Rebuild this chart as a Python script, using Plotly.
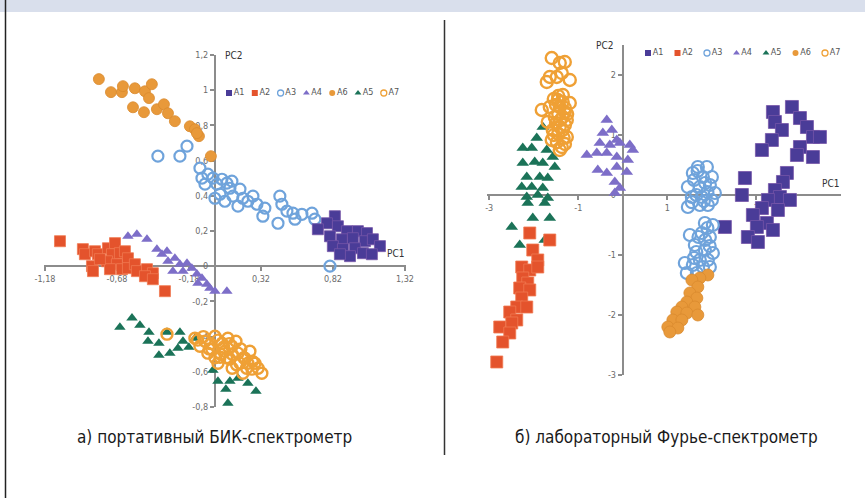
import plotly.graph_objects as go

W, H = 865, 498

# ---------------- data: panel a (portable NIR) ----------------
a_A1_x = [0.833, 0.778, 0.715, 0.854, 0.917, 0.993, 1.056, 0.799, 0.882, 0.958, 1.042, 1.097, 1.146, 0.819, 0.889, 0.972, 1.028, 1.090, 0.938, 0.868]
a_A1_y = [0.284, 0.244, 0.210, 0.227, 0.199, 0.199, 0.188, 0.170, 0.153, 0.159, 0.142, 0.153, 0.114, 0.114, 0.097, 0.102, 0.074, 0.068, 0.057, 0.068]

a_A2_x = [-1.076, -0.917, -0.903, -0.833, -0.813, -0.854, -0.847, -0.743, -0.694, -0.715, -0.660, -0.625, -0.604, -0.750, -0.681, -0.729, -0.646, -0.604, -0.556, -0.542, -0.472, -0.431, -0.486, -0.431, -0.347, -0.799]
a_A2_y = [0.142, 0.097, 0.068, 0.085, 0.068, 0.000, -0.028, 0.102, 0.131, 0.068, 0.074, 0.085, 0.045, 0.028, 0.011, -0.017, -0.017, -0.011, 0.011, -0.028, -0.017, -0.040, -0.057, -0.074, -0.142, 0.040]

a_A3_x = [-0.396, -0.243, -0.194, -0.104, -0.090, -0.049, -0.069, -0.014, 0.014, 0.049, 0.083, 0.118, 0.104, 0.035, 0.000, 0.069, 0.125, 0.174, 0.194, 0.160, 0.229, 0.264, 0.292, 0.347, 0.333, 0.451, 0.465, 0.500, 0.542, 0.438, 0.556, 0.604, 0.674, 0.694, 0.799]
a_A3_y = [0.625, 0.625, 0.682, 0.557, 0.500, 0.523, 0.466, 0.500, 0.466, 0.494, 0.472, 0.483, 0.443, 0.409, 0.386, 0.369, 0.398, 0.438, 0.386, 0.341, 0.369, 0.398, 0.352, 0.330, 0.284, 0.398, 0.352, 0.313, 0.301, 0.244, 0.267, 0.295, 0.301, 0.267, 0.000]

a_A4_x = [-0.604, -0.542, -0.472, -0.403, -0.368, -0.333, -0.326, -0.278, -0.243, -0.194, -0.160, -0.222, -0.125, -0.090, -0.118, -0.056, -0.035, 0.000, 0.083, -0.292]
a_A4_y = [0.170, 0.182, 0.153, 0.097, 0.068, 0.085, 0.028, 0.045, 0.011, 0.017, -0.011, -0.028, -0.045, -0.068, -0.097, -0.102, -0.125, -0.142, -0.142, -0.028]

a_A5_x = [-0.660, -0.576, -0.521, -0.458, -0.465, -0.389, -0.333, -0.389, -0.313, -0.243, -0.222, -0.257, -0.181, -0.139, -0.014, 0.021, 0.104, 0.076, 0.160, 0.229, 0.285, 0.090]
a_A5_y = [-0.347, -0.295, -0.335, -0.375, -0.426, -0.438, -0.375, -0.506, -0.494, -0.375, -0.426, -0.466, -0.460, -0.409, -0.591, -0.653, -0.653, -0.699, -0.636, -0.665, -0.710, -0.778]

a_A6_x = [-0.806, -0.722, -0.646, -0.639, -0.556, -0.486, -0.438, -0.458, -0.569, -0.493, -0.403, -0.354, -0.326, -0.278, -0.174, -0.139, -0.111, -0.125, -0.028]
a_A6_y = [1.063, 0.989, 0.989, 1.023, 1.011, 0.994, 1.034, 0.955, 0.903, 0.875, 0.892, 0.920, 0.869, 0.824, 0.795, 0.778, 0.739, 0.756, 0.625]

a_A7_x = [-0.333, -0.139, -0.069, 0.000, 0.049, -0.021, 0.069, 0.118, 0.160, 0.208, 0.104, 0.035, 0.243, 0.174, 0.278, 0.229, 0.326, 0.194, -0.049, -0.104, 0.090, 0.146, 0.021, 0.257,
          -0.120, -0.080, -0.030, 0.020, 0.060, 0.100, 0.120, 0.080, 0.040, 0.180, 0.200, 0.150, 0.220, 0.260, 0.300, 0.120, -0.040, 0.000]
a_A7_y = [-0.386, -0.409, -0.426, -0.398, -0.438, -0.472, -0.483, -0.455, -0.494, -0.523, -0.528, -0.517, -0.483, -0.551, -0.551, -0.551, -0.608, -0.608, -0.494, -0.455, -0.409, -0.426, -0.551, -0.585,
          -0.420, -0.400, -0.440, -0.420, -0.460, -0.440, -0.500, -0.520, -0.500, -0.470, -0.520, -0.560, -0.580, -0.540, -0.580, -0.580, -0.470, -0.520]

# ---------------- data: panel b (laboratory FT) ----------------
b_A1_x = [3.371, 3.798, 3.416, 3.978, 3.573, 4.135, 3.348, 4.270, 4.427, 3.124, 3.978, 3.910, 4.270, 3.685, 2.742, 3.596, 3.416, 2.674, 3.528, 3.753, 3.258, 3.124, 3.483, 2.921, 2.292, 3.236, 3.011, 3.371, 2.809, 3.034]
b_A1_y = [1.383, 1.467, 1.217, 1.283, 1.083, 1.133, 0.917, 0.967, 0.967, 0.750, 0.800, 0.667, 0.633, 0.367, 0.283, 0.217, 0.083, 0.000, -0.033, -0.083, -0.083, -0.217, -0.250, -0.333, -0.533, -0.467, -0.533, -0.583, -0.700, -0.783]

b_A2_x = [-2.090, -1.640, -2.022, -1.910, -2.270, -2.090, -1.910, -2.247, -2.135, -2.315, -2.090, -2.270, -2.382, -2.157, -2.539, -2.382, -2.494, -2.764, -2.539, -2.697, -2.831]
b_A2_y = [-0.633, -0.750, -0.917, -1.083, -1.200, -1.250, -1.200, -1.383, -1.467, -1.550, -1.583, -1.717, -1.867, -1.867, -1.950, -2.083, -2.133, -2.200, -2.300, -2.450, -2.783]

b_A3_x = [1.685, 1.888, 1.573, 1.798, 2.000, 1.461, 1.730, 1.955, 2.067, 1.551, 1.775, 2.000, 1.461, 1.730, 1.910, 1.843, 2.022, 1.506, 1.775, 1.955, 1.618, 1.843, 2.022, 1.730, 1.910, 1.393, 1.573, 1.955, 1.438, 1.663,
          1.600, 1.850, 1.650, 1.900, 1.550, 1.820, 1.700, 1.900, 1.650, 1.950, 1.600, 1.800, 1.850, 1.680]
b_A3_y = [0.467, 0.467, 0.367, 0.300, 0.300, 0.133, 0.133, 0.167, 0.033, -0.033, -0.033, -0.083, -0.200, -0.167, -0.167, -0.467, -0.500, -0.667, -0.633, -0.700, -0.833, -0.917, -0.967, -1.083, -1.083, -1.133, -1.167, -1.200, -1.300, -1.300,
          0.250, 0.200, 0.000, 0.050, -0.120, -0.100, -0.700, -0.550, -0.950, -0.850, -1.050, -1.200, -0.750, 0.400]

b_A4_x = [-0.360, -0.247, -0.449, -0.135, -0.517, -0.292, -0.067, 0.157, -0.809, -0.584, -0.360, -0.135, 0.225, 0.112, -0.562, -0.360, -0.135, 0.090, -0.180, -0.067, -0.180]
b_A4_y = [1.250, 1.083, 1.033, 0.917, 0.867, 0.833, 0.867, 0.833, 0.667, 0.700, 0.700, 0.633, 0.750, 0.583, 0.417, 0.367, 0.467, 0.383, 0.217, 0.117, 0.033]

b_A5_x = [-1.798, -1.933, -2.247, -2.045, -1.708, -1.573, -2.247, -1.978, -1.798, -1.528, -2.157, -1.865, -1.685, -2.270, -2.045, -1.798, -2.157, -1.910, -1.685, -2.135, -1.753, -2.022, -1.640, -2.494, -2.315, -1.753]
b_A5_y = [1.133, 0.950, 0.783, 0.783, 0.750, 0.633, 0.533, 0.550, 0.533, 0.467, 0.300, 0.300, 0.283, 0.133, 0.133, 0.117, -0.033, 0.000, -0.050, -0.133, -0.133, -0.383, -0.383, -0.533, -0.833, -0.750]

b_A6_x = [1.910, 1.730, 1.551, 1.685, 1.506, 1.663, 1.438, 1.326, 1.618, 1.213, 1.438, 1.685, 1.124, 1.326, 1.011, 1.236, 1.056]
b_A6_y = [-1.333, -1.383, -1.417, -1.533, -1.633, -1.717, -1.783, -1.867, -1.867, -1.950, -1.967, -2.000, -2.083, -2.083, -2.200, -2.217, -2.283]

b_A7_x = [-1.596, -1.416, -1.303, -1.640, -1.483, -1.371, -1.191, -1.708, -1.820, -1.348, -1.191, -1.416, -1.640, -1.528, -1.258, -1.416, -1.573, -1.258, -1.371, -1.416, -1.348, -1.596, -1.461, -1.303, -1.685,
          -1.450, -1.350, -1.500, -1.300, -1.450, -1.350, -1.500, -1.300, -1.450, -1.330, -1.480, -1.300, -1.550, -1.400, -1.250, -1.550]
b_A7_y = [2.283, 2.200, 2.217, 1.967, 1.967, 2.033, 1.917, 1.883, 1.417, 1.667, 1.533, 1.467, 1.467, 1.300, 1.250, 1.133, 1.083, 0.967, 0.800, 0.750, 1.083, 0.917, 1.583, 1.383, 1.217,
          1.650, 1.550, 1.500, 1.450, 1.350, 1.300, 1.200, 1.170, 1.020, 0.950, 0.880, 0.850, 1.000, 1.250, 1.350, 1.600]

# ---------------- axes ticks / labels ----------------
a_xticks = [-1.18, -0.68, -0.18, 0.32, 0.82, 1.32]
a_xtext = ["-1,18", "-0,68", "-0,18", "0,32", "0,82", "1,32"]
a_yticks = [-0.8, -0.6, -0.4, -0.2, 0.0, 0.2, 0.4, 0.6, 0.8, 1.0, 1.2]
a_ytext = ["-0,8", "-0,6", "-0,4", "-0,2", "0", "0,2", "0,4", "0,6", "0,8", "1", "1,2"]
b_xticks = [-3, -1, 1, 3]
b_xtext = ["-3", "-1", "1", "3"]
b_yticks = [-3, -2, -1, 0, 1, 2]
b_ytext = ["-3", "-2", "-1", "0", "1", "2"]

legend_order_a = ["A1", "A2", "A3", "A4", "A6", "A5", "A7"]
legend_order_b = ["A1", "A2", "A3", "A4", "A5", "A6", "A7"]

caption_a = "а) портативный БИК-спектрометр"
caption_b = "б) лабораторный Фурье-спектрометр"

# ---------------- styles ----------------
STYLE = {
    "A1": dict(symbol="square", color="#4A3C98", line=dict(color="#7656A8", width=0.8), size=11),
    "A2": dict(symbol="square", color="#E4532C", line=dict(color="#F07A52", width=0.8), size=11),
    "A3": dict(symbol="circle-open", color="#6FA3DB", line=dict(color="#6FA3DB", width=2.2), size=11),
    "A4": dict(symbol="triangle-up", color="#7D6EC8", line=dict(width=0), size=10),
    "A5": dict(symbol="triangle-up", color="#1B7358", line=dict(width=0), size=10),
    "A6": dict(symbol="circle", color="#E8993A", line=dict(color="#D98A2E", width=0.8), size=11),
    "A7": dict(symbol="circle-open", color="#EFA035", line=dict(color="#EFA035", width=2.4), size=11),
}
SIZE_B = {"A1": 13, "A2": 12, "A3": 12, "A4": 11, "A5": 11, "A6": 12, "A7": 12}

DATA_A = {"A1": (a_A1_x, a_A1_y), "A2": (a_A2_x, a_A2_y), "A3": (a_A3_x, a_A3_y),
          "A4": (a_A4_x, a_A4_y), "A5": (a_A5_x, a_A5_y), "A6": (a_A6_x, a_A6_y),
          "A7": (a_A7_x, a_A7_y)}
DATA_B = {"A1": (b_A1_x, b_A1_y), "A2": (b_A2_x, b_A2_y), "A3": (b_A3_x, b_A3_y),
          "A4": (b_A4_x, b_A4_y), "A5": (b_A5_x, b_A5_y), "A6": (b_A6_x, b_A6_y),
          "A7": (b_A7_x, b_A7_y)}


def px(p):
    return p / W


def py(p):
    return 1 - p / H


# panel geometry (pixels)
A_XR, A_YR = [-1.185, 1.325], [-0.8, 1.2]
A_XD, A_YD = [px(44.3), px(405.7)], [py(407), py(55)]
B_XR, B_YR = [-3.05, 4.9], [-3.0, 2.5]
B_XD, B_YD = [px(487), px(841)], [py(375), py(45)]


def zero_pos(rng, dom):
    return dom[0] + (0 - rng[0]) / (rng[1] - rng[0]) * (dom[1] - dom[0])


fig = go.Figure()

for name in ["A6", "A3", "A1", "A2", "A4", "A5", "A7"]:
    s = STYLE[name]
    x, y = DATA_A[name]
    fig.add_trace(go.Scatter(x=x, y=y, mode="markers", name=name, showlegend=False,
                             xaxis="x", yaxis="y", cliponaxis=False,
                             marker=dict(symbol=s["symbol"], color=s["color"], size=s["size"], line=s["line"])))
for name in ["A4", "A5", "A7", "A2", "A1", "A3", "A6"]:
    s = STYLE[name]
    x, y = DATA_B[name]
    fig.add_trace(go.Scatter(x=x, y=y, mode="markers", name=name, showlegend=False,
                             xaxis="x2", yaxis="y2", cliponaxis=False,
                             marker=dict(symbol=s["symbol"], color=s["color"], size=SIZE_B[name], line=s["line"])))

# compact legends (one entry per series)
for ax, order in (("3", legend_order_a), ("4", legend_order_b)):
    for i, name in enumerate(order):
        s = STYLE[name]
        lw = 1.3 if "open" in s["symbol"] else 0
        fig.add_trace(go.Scatter(x=[i], y=[0], mode="markers+text", text=[name],
                                 textposition="middle right", showlegend=False,
                                 textfont=dict(size=9, color="#555555", family="DejaVu Sans Condensed, Liberation Sans Narrow, sans-serif"),
                                 xaxis="x" + ax, yaxis="y" + ax, cliponaxis=False, hoverinfo="skip",
                                 marker=dict(symbol=s["symbol"], color=s["color"], size=6,
                                             line=dict(color=s["color"], width=lw))))

axis_common = dict(showgrid=False, zeroline=False, showline=True, linecolor="#8C8C8C", linewidth=2,
                   ticks="outside", ticklen=4, tickcolor="#8C8C8C", tickwidth=1.5,
                   tickfont=dict(size=9, color="#6B6B6B", family="DejaVu Sans Condensed, Liberation Sans Narrow, sans-serif"),
                   layer="below traces", fixedrange=True, automargin=False)

fig.update_layout(
    width=W, height=H, autosize=False,
    margin=dict(l=0, r=0, t=0, b=0, pad=0, autoexpand=False),
    paper_bgcolor="white", plot_bgcolor="rgba(0,0,0,0)", separators=", ",
    xaxis=dict(domain=A_XD, range=A_XR, anchor="free", position=zero_pos(A_YR, A_YD),
               tickmode="array", tickvals=a_xticks, ticktext=a_xtext, **axis_common),
    yaxis=dict(domain=A_YD, range=A_YR, anchor="free", position=zero_pos(A_XR, A_XD),
               tickmode="array", tickvals=a_yticks, ticktext=a_ytext, **axis_common),
    xaxis2=dict(domain=B_XD, range=B_XR, anchor="free", position=zero_pos(B_YR, B_YD),
                tickmode="array", tickvals=b_xticks, ticktext=b_xtext, **axis_common),
    yaxis2=dict(domain=B_YD, range=B_YR, anchor="free", position=zero_pos(B_XR, B_XD),
                tickmode="array", tickvals=b_yticks, ticktext=b_ytext, **axis_common),
    xaxis3=dict(domain=[px(229), px(229 + 7 * 25.8)], range=[0, 7], visible=False, fixedrange=True),
    yaxis3=dict(domain=[py(100), py(86)], range=[-1, 1], visible=False, fixedrange=True, anchor="x3"),
    xaxis4=dict(domain=[px(648), px(648 + 7 * 29.5)], range=[0, 7], visible=False, fixedrange=True),
    yaxis4=dict(domain=[py(60), py(46)], range=[-1, 1], visible=False, fixedrange=True, anchor="x4"),
    showlegend=False,
)

lab_font = dict(size=10, color="#333333", family="DejaVu Sans Condensed, Liberation Sans Narrow, sans-serif")
fig.add_annotation(x=0, y=A_YR[1], xref="x", yref="y", text="PC2", showarrow=False,
                   xanchor="left", yanchor="middle", xshift=8, font=lab_font)
fig.add_annotation(x=A_XR[1], y=0, xref="x", yref="y", text="PC1", showarrow=False,
                   xanchor="right", yanchor="bottom", yshift=5, font=lab_font)
fig.add_annotation(x=0, y=B_YR[1], xref="x2", yref="y2", text="PC2", showarrow=False,
                   xanchor="right", yanchor="middle", xshift=-8, font=lab_font)
fig.add_annotation(x=B_XR[1], y=0, xref="x2", yref="y2", text="PC1", showarrow=False,
                   xanchor="right", yanchor="bottom", yshift=4, font=lab_font)

cap_font = dict(size=17, color="#1A1A1A", family="DejaVu Sans Condensed, Liberation Sans Narrow, Roboto, sans-serif")
fig.add_annotation(x=px(214), y=py(437), xref="paper", yref="paper", text=caption_a,
                   showarrow=False, xanchor="center", yanchor="middle", font=cap_font)
fig.add_annotation(x=px(666), y=py(437), xref="paper", yref="paper", text=caption_b,
                   showarrow=False, xanchor="center", yanchor="middle", font=cap_font)

# frame decorations
fig.add_shape(type="rect", xref="paper", yref="paper", x0=0, x1=1, y0=py(12), y1=1,
              fillcolor="#D9DFEC", line=dict(width=0), layer="below")
fig.add_shape(type="line", xref="paper", yref="paper", x0=px(5.5), x1=px(5.5), y0=0, y1=1,
              line=dict(color="#222222", width=1.5))
fig.add_shape(type="line", xref="paper", yref="paper", x0=px(444.5), x1=px(444.5), y0=py(455), y1=py(20),
              line=dict(color="#333333", width=1.5))

fig.write_html("out.html", config={"displayModeBar": False},
               post_script="document.body.style.margin='0';document.body.style.padding='0';document.body.style.overflow='hidden';")
